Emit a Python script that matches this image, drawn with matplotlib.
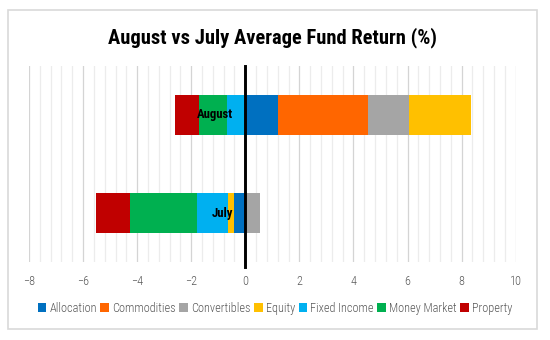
import matplotlib
matplotlib.use("Agg")
import matplotlib.pyplot as plt
from matplotlib.ticker import MultipleLocator
from matplotlib.patches import Rectangle, Patch

plt.rcParams['font.family'] = ['Roboto Condensed', 'DejaVu Sans']

months = ["July", "August"]
series = ["Allocation", "Commodities", "Convertibles", "Equity",
          "Fixed Income", "Money Market", "Property"]
# values per series: [July, August]
allocation = [-0.40, 1.21]
commodities = [0.00, 3.33]
convertibles = [0.54, 1.50]
equity = [-0.23, 2.30]
fixed_income = [-1.15, -0.67]
money_market = [-2.50, -1.03]
property_ = [-1.23, -0.90]
x_ticks = [-8, -6, -4, -2, 0, 2, 4, 6, 8, 10]

values = [allocation, commodities, convertibles, equity,
          fixed_income, money_market, property_]
colors = ["#0070C0", "#FF6600", "#A5A5A5", "#FFC000",
          "#00B0F0", "#00B050", "#C00000"]

fig = plt.figure(figsize=(5.5, 3.4), dpi=100)
ax = fig.add_axes([0.0527, 0.2294, 0.8849, 0.5765])

ypos = list(range(len(months)))
pos_base = [0.0] * len(months)
neg_base = [0.0] * len(months)
for vals, col in zip(values, colors):
    lefts = []
    for i, v in enumerate(vals):
        if v >= 0:
            lefts.append(pos_base[i])
            pos_base[i] += v
        else:
            neg_base[i] += v
            lefts.append(neg_base[i])
    ax.barh(ypos, [abs(v) for v in vals], left=lefts, height=0.4,
            color=col, edgecolor="none", zorder=2)

ax.set_xlim(-8, 10)
ax.set_ylim(-0.5, 1.5)
ax.xaxis.set_minor_locator(MultipleLocator(0.4))
ax.set_xticks(x_ticks)
ax.grid(axis="x", which="major", color="#d4d4d4", lw=0.9, zorder=0)
ax.grid(axis="x", which="minor", color="#ececec", lw=0.9, zorder=0)
ax.tick_params(axis="x", which="both", length=0, pad=9,
               labelsize=8.8, labelcolor="#595959")
for lab in ax.get_xticklabels():
    lab.set_fontweight("light")
ax.set_yticks([])
for s in ax.spines.values():
    s.set_visible(False)

# vertical zero axis, extended slightly below the plot area
ax.axvline(0, ymin=-0.028, ymax=1, color="black", lw=2.1,
           zorder=4, clip_on=False)

for y, m in zip(ypos, months):
    ax.text(-0.44, y, m, ha="right", va="center", fontsize=9.2,
            fontweight="bold", color="black", zorder=5)

fig.text(0.4955, 0.888, "August vs July Average Fund Return (%)",
         ha="center", va="center", fontsize=14.8, fontweight="bold",
         color="black")

handles = [Patch(facecolor=c, edgecolor="none") for c in colors]
leg = fig.legend(handles, series, loc="center", bbox_to_anchor=(0.5, 0.094),
                 ncol=7, frameon=False, fontsize=8.8, handlelength=0.7,
                 handleheight=0.7, handletextpad=0.25, columnspacing=0.3,
                 labelcolor="#595959")
for t in leg.get_texts():
    t.set_fontweight("light")

fig.patches.append(Rectangle((8 / 550, 1 - 329 / 340), 529 / 550, 319 / 340,
                             transform=fig.transFigure, fill=False,
                             edgecolor="#d9d9d9", lw=1.2))

fig.savefig("out.png", dpi=100)
